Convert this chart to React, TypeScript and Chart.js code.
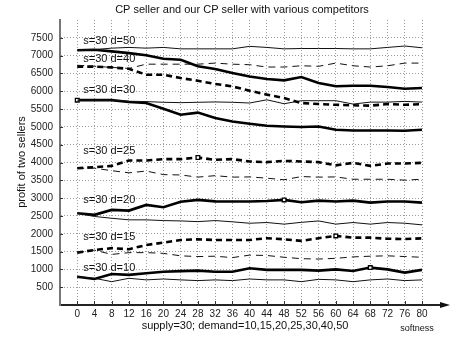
import React, { useEffect, useRef } from "react";
import { Chart, registerables } from "chart.js";

Chart.register(...registerables);

const softness = [0, 4, 8, 12, 16, 20, 24, 28, 32, 36, 40, 44, 48, 52, 56, 60, 64, 68, 72, 76, 80];

const d50Thick = [7150, 7165, 7120, 7070, 7010, 6910, 6885, 6700, 6625, 6510, 6415, 6345, 6305, 6400, 6230, 6140, 6155, 6155, 6120, 6070, 6090];
const d50Thin = [7150, 7170, 7210, 7230, 7210, 7230, 7190, 7190, 7190, 7190, 7260, 7230, 7190, 7200, 7200, 7200, 7190, 7190, 7230, 7270, 7220];
const d40Thick = [6690, 6690, 6670, 6630, 6465, 6465, 6370, 6295, 6205, 6135, 6015, 5905, 5810, 5670, 5640, 5620, 5605, 5595, 5640, 5620, 5640];
const d40Thin = [6730, 6700, 6670, 6640, 6760, 6760, 6760, 6760, 6790, 6760, 6745, 6680, 6680, 6715, 6700, 6790, 6715, 6680, 6715, 6790, 6790];
const d30Thick = [5750, 5750, 5750, 5700, 5670, 5510, 5340, 5400, 5250, 5150, 5090, 5030, 5010, 4995, 5010, 4920, 4900, 4900, 4900, 4890, 4920];
const d30Thin = [5750, 5750, 5740, 5720, 5710, 5690, 5680, 5690, 5700, 5690, 5670, 5760, 5650, 5735, 5735, 5735, 5640, 5695, 5695, 5715, 5695];
const d25Thick = [3840, 3870, 3905, 4055, 4055, 4095, 4095, 4140, 4075, 4095, 4030, 4010, 4045, 4030, 4010, 3920, 3990, 3905, 3970, 3970, 3990];
const d25Thin = [3840, 3840, 3770, 3710, 3760, 3660, 3650, 3590, 3630, 3590, 3595, 3560, 3515, 3605, 3590, 3595, 3530, 3530, 3530, 3505, 3530];
const d20Thick = [2575, 2530, 2670, 2650, 2810, 2745, 2900, 2950, 2910, 2905, 2905, 2920, 2950, 2885, 2930, 2905, 2930, 2875, 2905, 2905, 2875];
const d20Thin = [2575, 2485, 2435, 2390, 2390, 2370, 2360, 2340, 2370, 2335, 2295, 2315, 2270, 2320, 2360, 2270, 2315, 2270, 2315, 2295, 2250];
const d15Thick = [1470, 1545, 1595, 1565, 1685, 1750, 1825, 1845, 1825, 1825, 1825, 1875, 1845, 1800, 1875, 1940, 1890, 1890, 1860, 1850, 1870];
const d15Thin = [1470, 1540, 1420, 1470, 1470, 1450, 1380, 1360, 1370, 1330, 1400, 1390, 1340, 1300, 1290, 1310, 1350, 1370, 1380, 1360, 1340];
const d10Thick = [795, 730, 870, 845, 890, 935, 950, 965, 935, 935, 1030, 985, 985, 985, 965, 1000, 955, 1050, 1000, 910, 985];
const d10Thin = [795, 750, 655, 750, 705, 730, 705, 685, 705, 685, 730, 705, 705, 655, 720, 705, 655, 705, 730, 685, 705];

// index of the square marker on each thick line (-1 = none)
const markerIdx = [-1, -1, 0, 7, 12, 15, 17];

const seriesLabels = ["s=30 d=50", "s=30 d=40", "s=30 d=30", "s=30 d=25", "s=30 d=20", "s=30 d=15", "s=30 d=10"];
const seriesLabelY = [7400, 6900, 6040, 4310, 2950, 1900, 1050];
const seriesLabelX = 1.4;

const titleText = "CP seller and our CP seller with various competitors";
const yTitle = "profit of two sellers";
const xTitle = "supply=30; demand=10,15,20,25,30,40,50";
const xTitle2 = "softness";

const FONT = "'Liberation Sans', Arial, sans-serif";

export default function App() {
  const ref = useRef<HTMLCanvasElement | null>(null);

  useEffect(() => {
    if (!ref.current) return;
    const pairs: [number[], number[], boolean][] = [
      [d50Thick, d50Thin, false],
      [d40Thick, d40Thin, true],
      [d30Thick, d30Thin, false],
      [d25Thick, d25Thin, true],
      [d20Thick, d20Thin, false],
      [d15Thick, d15Thin, true],
      [d10Thick, d10Thin, false],
    ];
    const datasets: any[] = [];
    pairs.forEach(([thick, thin, dashed], i) => {
      datasets.push({
        data: thin.map((v, k) => ({ x: softness[k], y: v })),
        borderColor: "#111",
        borderWidth: 1,
        borderDash: dashed ? [7, 5] : [],
        pointRadius: 0,
        tension: 0,
      });
      datasets.push({
        data: thick.map((v, k) => ({ x: softness[k], y: v })),
        borderColor: "#000",
        borderWidth: 2.6,
        borderDash: dashed ? [6, 4] : [],
        pointRadius: thick.map((_, k) => (k === markerIdx[i] ? 2.6 : 0)),
        pointStyle: "rect",
        pointBackgroundColor: "#fff",
        pointBorderColor: "#000",
        pointBorderWidth: 1.3,
        tension: 0,
      });
    });

    const textPlugin = {
      id: "texts",
      afterDraw(chart: any) {
        const { ctx, chartArea, scales } = chart;
        const xs = scales.x;
        const ys = scales.y;
        ctx.save();
        // inside tick marks
        ctx.strokeStyle = "#333";
        ctx.lineWidth = 1;
        for (const v of softness) {
          const px = Math.round(xs.getPixelForValue(v)) + 0.5;
          ctx.beginPath();
          ctx.moveTo(px, chartArea.bottom);
          ctx.lineTo(px, chartArea.bottom - 4);
          ctx.stroke();
        }
        for (let v = 500; v <= 7500; v += 500) {
          const py = Math.round(ys.getPixelForValue(v)) + 0.5;
          ctx.beginPath();
          ctx.moveTo(chartArea.left, py);
          ctx.lineTo(chartArea.left + 3, py);
          ctx.stroke();
        }
        // x axis arrow
        ctx.strokeStyle = "#222";
        ctx.lineWidth = 2;
        ctx.beginPath();
        ctx.moveTo(chartArea.right, chartArea.bottom);
        ctx.lineTo(444, chartArea.bottom);
        ctx.stroke();
        ctx.fillStyle = "#111";
        ctx.beginPath();
        ctx.moveTo(450, chartArea.bottom);
        ctx.lineTo(440, chartArea.bottom - 3);
        ctx.lineTo(440, chartArea.bottom + 3);
        ctx.closePath();
        ctx.fill();

        ctx.fillStyle = "#111";
        ctx.textBaseline = "middle";
        // title
        ctx.font = `11px ${FONT}`;
        ctx.textAlign = "center";
        ctx.fillText(titleText, 242, 10);
        // x title
        ctx.fillText(xTitle, 245, 326);
        ctx.font = `9px ${FONT}`;
        ctx.fillText(xTitle2, 417, 329);
        // y title
        ctx.save();
        ctx.font = `11px ${FONT}`;
        ctx.translate(22, 162);
        ctx.rotate(-Math.PI / 2);
        ctx.fillText(yTitle, 0, 0);
        ctx.restore();
        // series labels
        ctx.font = `11px ${FONT}`;
        ctx.textAlign = "left";
        seriesLabels.forEach((t, i) => {
          ctx.fillText(t, xs.getPixelForValue(seriesLabelX), ys.getPixelForValue(seriesLabelY[i]));
        });
        ctx.restore();
      },
    };

    const chart = new Chart(ref.current, {
      type: "line",
      data: { datasets },
      options: {
        animation: false,
        responsive: false,
        layout: { padding: { top: 20, right: 29, left: 0, bottom: 0 } },
        plugins: { legend: { display: false }, title: { display: false }, tooltip: { enabled: false } },
        scales: {
          x: {
            type: "linear",
            min: -4,
            max: 80,
            afterFit: (s: any) => { s.height = 34; },
            ticks: {
              stepSize: 4,
              padding: 3,
              color: "#222",
              font: { size: 10, family: FONT },
              maxRotation: 0,
              autoSkip: false,
              callback: (v: any) => (v < 0 ? "" : String(v)),
            },
            grid: {
              drawTicks: false,
              color: (c: any) => (c.tick && c.tick.value < 0 ? "transparent" : "#9a9a9a"),
              lineWidth: 1,
            },
            border: { display: true, color: "#222", width: 2, dash: [1, 2] },
          },
          y: {
            min: 0,
            max: 8000,
            afterFit: (s: any) => { s.width = 60; },
            ticks: {
              stepSize: 500,
              padding: 7,
              color: "#222",
              font: { size: 10, family: FONT },
              callback: (v: any) => (v === 0 || v === 8000 ? "" : String(v)),
            },
            grid: {
              drawTicks: false,
              color: (c: any) => (c.tick && (c.tick.value === 0 || c.tick.value === 8000) ? "transparent" : "#9a9a9a"),
              lineWidth: 1,
            },
            border: { display: true, color: "#777", width: 2, dash: [1, 2] },
          },
        },
      },
      plugins: [textPlugin],
    });
    return () => chart.destroy();
  }, []);

  return (
    <div style={{ position: "fixed", left: 0, top: 0, width: 451, height: 339, background: "#fff" }}>
      <canvas ref={ref} width={451} height={339} />
    </div>
  );
}
